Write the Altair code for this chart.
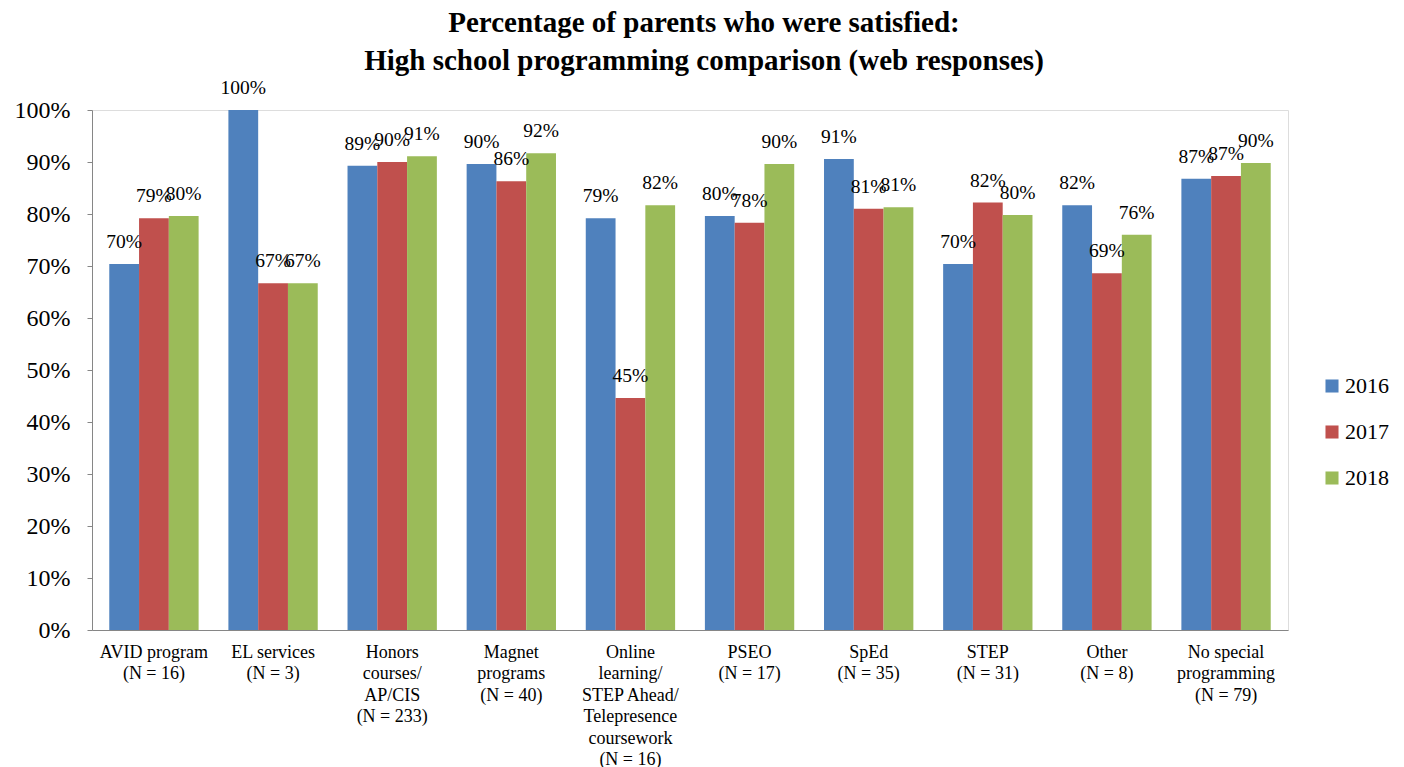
import altair as alt
import pandas as pd

categories = [
    "AVID program|(N = 16)",
    "EL services|(N = 3)",
    "Honors|courses/|AP/CIS|(N = 233)",
    "Magnet|programs|(N = 40)",
    "Online|learning/|STEP Ahead/|Telepresence|coursework|(N = 16)",
    "PSEO|(N = 17)",
    "SpEd|(N = 35)",
    "STEP|(N = 31)",
    "Other|(N = 8)",
    "No special|programming|(N = 79)",
]
years = ["2016", "2017", "2018"]
v2016 = [70.4, 100.0, 89.3, 89.6, 79.2, 79.6, 90.6, 70.4, 81.7, 86.8]
v2017 = [79.2, 66.7, 90.0, 86.3, 44.6, 78.3, 81.0, 82.2, 68.6, 87.3]
v2018 = [79.6, 66.7, 91.1, 91.7, 81.7, 89.6, 81.3, 79.8, 76.0, 89.8]
colors = ["#4F81BD", "#C0504D", "#9BBB59"]

rows = []
for yr, vals in zip(years, [v2016, v2017, v2018]):
    for c, v in zip(categories, vals):
        rows.append({"category": c, "year": yr, "value": v,
                     "label": f"{round(v + 1e-9):.0f}%"})
df = pd.DataFrame(rows)

FONT = "Liberation Serif"

x = alt.X("category:N", sort=categories, title=None,
          scale=alt.Scale(paddingInner=0.25, paddingOuter=0.145),
          axis=alt.Axis(labelExpr="split(datum.label, '|')", labelAngle=0,
                        labelFontSize=18, labelLineHeight=21.5, labelPadding=13,
                        labelLimit=400, ticks=False, domainColor="#868686",
                        labelColor="#000000", labelFont=FONT))
xo = alt.XOffset("year:N", sort=years, scale=alt.Scale(paddingInner=0, paddingOuter=0))
y = alt.Y("value:Q", title=None,
          scale=alt.Scale(domain=[0, 100], nice=False),
          axis=alt.Axis(values=list(range(0, 101, 10)), labelExpr="datum.value + '%'",
                        grid=False, tickSize=5, tickColor="#868686", domainColor="#868686",
                        labelFontSize=24, labelPadding=17, labelColor="#000000",
                        labelFont=FONT))

bars = alt.Chart(df).mark_bar().encode(
    x=x, xOffset=xo, y=y,
    color=alt.Color("year:N", sort=years, title=None,
                    scale=alt.Scale(domain=years, range=colors),
                    legend=alt.Legend(orient="none", legendX=1229, legendY=265,
                                      symbolType="square", symbolSize=170,
                                      symbolStrokeWidth=0, labelFontSize=22,
                                      labelFont=FONT, labelColor="#000000",
                                      rowPadding=24, padding=0, labelOffset=2)),
)

texts = alt.Chart(df).mark_text(baseline="middle", dy=-22, fontSize=19.5,
                                font=FONT, color="#000000").encode(
    x=x, xOffset=xo, y=y, text="label:N")

chart = (bars + texts).properties(
    width=1196, height=520,
    autosize=alt.AutoSizeParams(type="none"),
    padding={"left": 84, "top": 102, "right": 108, "bottom": 137},
    title=alt.TitleParams(
        text=["Percentage of parents who were satisfied:",
              "High school programming comparison (web responses)"],
        font=FONT, fontSize=29, fontWeight="bold", color="#000000",
        lineHeight=38, anchor="middle", dx=14, offset=2),
).configure_view(stroke=None).configure(font=FONT)

chart.save("out.html", embed_options={"renderer": "svg", "actions": False})
